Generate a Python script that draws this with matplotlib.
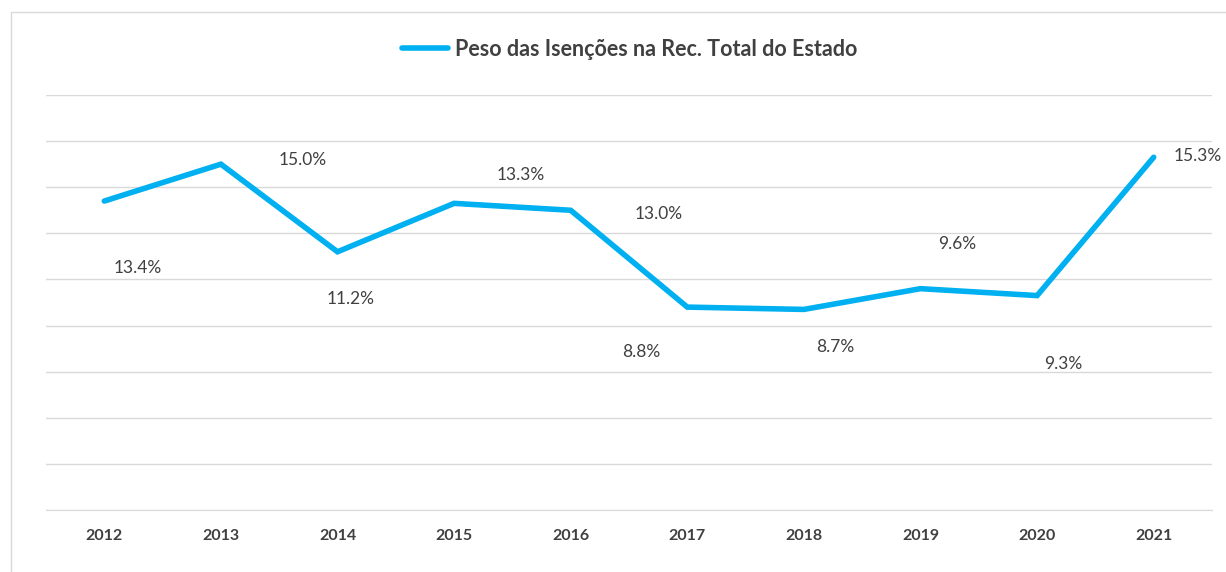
import matplotlib.pyplot as plt
from matplotlib.patches import Rectangle

plt.rcParams['font.family'] = ['Lato', 'DejaVu Sans']

# data
years = ['2012', '2013', '2014', '2015', '2016', '2017', '2018', '2019', '2020', '2021']
peso = [13.4, 15.0, 11.2, 13.3, 13.0, 8.8, 8.7, 9.6, 9.3, 15.3]
series_name = 'Peso das Isenções na Rec. Total do Estado'

# label offsets in pixels (Excel placed these a bit oddly)
label_dx = [33, 82, 13, 67, 88, -46, 31, 37, 26, 44]
label_dy = [-67, 4, -47, 28, -4, -45, -38, 45, -68, 1]

blue = '#00B0F0'
grey_txt = '#404040'

fig = plt.figure(figsize=(12.26, 5.72), dpi=100)
fig.patches.append(Rectangle((11 / 1226, -0.1), 1.2, (572 - 12) / 572 + 0.1,
                             transform=fig.transFigure, fill=False,
                             edgecolor='#d9d9d9', linewidth=1))

ax = fig.add_axes([46 / 1226, 1 - 510 / 572, (1212 - 46) / 1226, (510 - 95) / 572])
x = range(len(years))
ax.plot(x, peso, color=blue, linewidth=4, solid_capstyle='round',
        solid_joinstyle='miter', label=series_name, zorder=3)

ax.set_xlim(-0.5, len(years) - 0.5)
ax.set_ylim(0, 18)
ax.set_yticks(range(0, 19, 2))
ax.yaxis.grid(True, color='#d9d9d9', linewidth=1)
ax.set_axisbelow(True)
ax.tick_params(axis='y', left=False, labelleft=False)
ax.tick_params(axis='x', bottom=False, pad=10)
ax.set_xticks(list(x))
ax.set_xticklabels(years, fontsize=11.5, fontweight='bold', color=grey_txt)
for s in ['top', 'left', 'right']:
    ax.spines[s].set_visible(False)
ax.spines['bottom'].set_color('#d9d9d9')

for i, v in enumerate(peso):
    ax.annotate(f'{v:.1f}%', (i, v), xytext=(label_dx[i], label_dy[i]),
                textcoords='offset pixels', ha='center', va='center',
                fontsize=12.5, color=grey_txt)

leg = fig.legend(loc='center', bbox_to_anchor=(630 / 1226, 1 - 49 / 572),
                 frameon=False, handlelength=2.1, handletextpad=0.35,
                 prop={'size': 15.5, 'weight': 'bold'})
for t in leg.get_texts():
    t.set_color(grey_txt)

fig.savefig('out.png', dpi=100)
